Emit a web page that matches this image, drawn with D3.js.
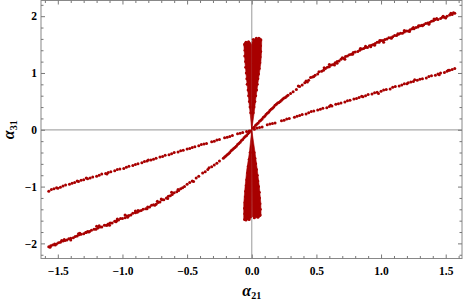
<!DOCTYPE html>
<html>
<head>
<meta charset="utf-8">
<script src="https://cdn.jsdelivr.net/npm/d3@7"></script>
<style>
  body { margin: 0; background: #fff; }
  svg { display: block; }
  .tick text { font-family: "Liberation Serif", serif; font-weight: bold; font-size: 11.5px; fill: #000; }
  .tick line { stroke: #777; }
  .label { font-family: "Liberation Serif", serif; font-weight: bold; }
</style>
</head>
<body>
<svg width="463" height="300"></svg>
<script>
// tick values
const xMajor = [-1.5, -1.0, -0.5, 0.0, 0.5, 1.0, 1.5]
const xMinor = [-1.6, -1.4, -1.3, -1.2, -1.1, -0.9, -0.8, -0.7, -0.6, -0.4, -0.3, -0.2, -0.1,
  0.1, 0.2, 0.3, 0.4, 0.6, 0.7, 0.8, 0.9, 1.1, 1.2, 1.3, 1.4, 1.6]
const yMajor = [-2, -1, 0, 1, 2]
const yMinor = [-2.2, -1.8, -1.6, -1.4, -1.2, -0.8, -0.6, -0.4, -0.2,
  0.2, 0.4, 0.6, 0.8, 1.2, 1.4, 1.6, 1.8, 2.2]

// shallow band, alpha31 ~ 0.68 alpha21
const bandA = [
  [0.02,0.01],[0.04,0.03],[0.06,0.04],[0.08,0.05],[0.12,0.09],[0.14,0.10],[0.16,0.11],[0.18,0.12],
  [0.23,0.16],[0.25,0.17],[0.27,0.19],[0.29,0.20],[0.33,0.22],[0.35,0.24],[0.37,0.25],[0.39,0.27],
  [0.42,0.28],[0.44,0.30],[0.46,0.32],[0.48,0.33],[0.51,0.35],[0.53,0.36],[0.55,0.38],[0.58,0.39],
  [0.60,0.41],[0.62,0.42],[0.65,0.45],[0.67,0.46],[0.69,0.47],[0.72,0.49],[0.74,0.51],[0.76,0.52],
  [0.79,0.54],[0.81,0.55],[0.83,0.57],[0.86,0.58],[0.88,0.60],[0.90,0.62],[0.93,0.63],[0.95,0.65],
  [0.97,0.66],[1.00,0.68],[1.02,0.70],[1.04,0.71],[1.07,0.72],[1.09,0.75],[1.11,0.76],[1.14,0.77],
  [1.16,0.79],[1.18,0.81],[1.21,0.83],[1.23,0.84],[1.25,0.85],[1.28,0.87],[1.30,0.89],[1.32,0.90],
  [1.35,0.91],[1.37,0.94],[1.39,0.95],[1.42,0.96],[1.44,0.98],[1.46,1.00],[1.49,1.01],[1.51,1.03],
  [1.53,1.05],[1.55,1.06],[1.57,1.08],
  [0.61,0.43],[0.98,0.64],[1.26,0.88],[1.45,0.97],[1.52,1.05],[1.20,0.81],[0.85,0.59],
  [-0.02,-0.02],[-0.04,-0.03],[-0.07,-0.05],[-0.09,-0.06],[-0.11,-0.07],[-0.15,-0.10],[-0.17,-0.12],
  [-0.19,-0.13],[-0.21,-0.14],[-0.25,-0.17],[-0.27,-0.18],[-0.29,-0.20],[-0.31,-0.21],[-0.35,-0.24],
  [-0.37,-0.25],[-0.39,-0.26],[-0.41,-0.28],[-0.44,-0.30],[-0.46,-0.31],[-0.48,-0.33],[-0.50,-0.34],
  [-0.53,-0.36],[-0.55,-0.37],[-0.57,-0.39],[-0.60,-0.40],[-0.62,-0.42],[-0.64,-0.44],[-0.67,-0.45],
  [-0.69,-0.47],[-0.71,-0.48],[-0.74,-0.50],[-0.76,-0.52],[-0.78,-0.53],[-0.81,-0.55],[-0.83,-0.56],
  [-0.85,-0.58],[-0.88,-0.60],[-0.90,-0.61],[-0.92,-0.63],[-0.95,-0.64],[-0.97,-0.66],[-0.99,-0.68],
  [-1.02,-0.69],[-1.04,-0.70],[-1.06,-0.72],[-1.09,-0.74],[-1.11,-0.75],[-1.13,-0.77],[-1.16,-0.78],
  [-1.18,-0.80],[-1.20,-0.82],[-1.23,-0.83],[-1.25,-0.85],[-1.27,-0.86],[-1.30,-0.88],[-1.32,-0.89],
  [-1.34,-0.91],[-1.37,-0.93],[-1.39,-0.94],[-1.41,-0.96],[-1.44,-0.97],[-1.46,-0.99],[-1.48,-1.01],
  [-1.51,-1.02],[-1.53,-1.04],[-1.55,-1.05],[-1.57,-1.08],
  [-1.35,-0.90],[-1.12,-0.78],[-0.80,-0.53],[-1.50,-1.03],[-1.28,-0.85]
]

// steep curved band
const bandB = [
  [0.01,0.03],[0.02,0.05],[0.03,0.08],[0.04,0.10],[0.05,0.12],[0.06,0.15],[0.07,0.17],[0.08,0.19],
  [0.09,0.22],[0.10,0.24],[0.11,0.27],[0.12,0.29],[0.13,0.31],[0.14,0.34],[0.15,0.36],[0.16,0.38],
  [0.17,0.40],[0.18,0.43],[0.19,0.45],[0.20,0.47],[0.21,0.48],[0.22,0.50],[0.23,0.52],[0.24,0.54],
  [0.25,0.56],[0.26,0.57],[0.27,0.59],[0.28,0.61],
  [0.30,0.64],[0.32,0.67],[0.345,0.71],[0.37,0.76],[0.39,0.79],[0.41,0.83],[0.42,0.86],[0.44,0.87],
  [0.455,0.92],[0.47,0.93],
  [0.49,0.96],[0.51,0.98],[0.52,1.02],[0.54,1.03],[0.555,1.05],[0.57,1.08],[0.585,1.10],[0.60,1.11],
  [0.615,1.14],[0.63,1.15],[0.645,1.18],[0.66,1.20],[0.675,1.21],[0.69,1.24],[0.71,1.26],[0.725,1.29],
  [0.74,1.30],[0.755,1.32],[0.77,1.33],[0.785,1.36],[0.80,1.37],[0.82,1.38],[0.835,1.40],[0.85,1.42],
  [0.865,1.43],[0.88,1.45],[0.895,1.45],[0.91,1.48],[0.925,1.49],[0.94,1.50],[0.955,1.52],[0.97,1.54],
  [0.985,1.54],[1.00,1.57],[1.015,1.57],[1.03,1.59],[1.045,1.60],[1.06,1.62],[1.075,1.62],[1.09,1.64],
  [1.105,1.66],[1.12,1.66],[1.135,1.68],[1.15,1.70],[1.165,1.70],[1.18,1.72],[1.195,1.74],[1.21,1.74],
  [1.225,1.76],[1.24,1.78],[1.255,1.78],[1.27,1.80],[1.285,1.81],[1.30,1.83],[1.315,1.84],[1.33,1.85],
  [1.345,1.87],[1.36,1.88],[1.375,1.89],[1.39,1.91],[1.405,1.92],[1.42,1.94],[1.44,1.94],[1.46,1.96],
  [1.475,1.98],[1.49,1.98],[1.51,2.00],[1.53,2.02],[1.55,2.03],[1.57,2.05],
  [0.60,1.15],[0.72,1.24],[0.88,1.47],[1.02,1.54],[1.18,1.75],[1.32,1.83],[1.48,2.00],[0.66,1.17],
  [0.95,1.49],[1.25,1.80],[1.43,1.96],[1.54,2.05],
  [0.56,1.09],[0.64,1.14],[0.70,1.27],[0.78,1.33],[0.84,1.43],[0.92,1.46],[0.99,1.57],[1.08,1.61],
  [1.13,1.69],[1.22,1.73],[1.29,1.83],[1.37,1.86],[1.41,1.95],[1.50,1.97],[1.56,2.06],[0.43,0.84],
  [0.36,0.77],[0.48,0.94],
  [-0.01,-0.02],[-0.02,-0.05],[-0.03,-0.07],[-0.04,-0.10],[-0.05,-0.12],[-0.06,-0.14],[-0.07,-0.17],
  [-0.08,-0.19],[-0.09,-0.22],[-0.10,-0.24],[-0.11,-0.26],[-0.12,-0.29],[-0.13,-0.31],[-0.14,-0.33],
  [-0.15,-0.35],[-0.16,-0.37],[-0.17,-0.40],[-0.18,-0.42],[-0.19,-0.44],[-0.20,-0.46],[-0.21,-0.48],
  [-0.22,-0.50],
  [-0.25,-0.55],[-0.27,-0.59],[-0.29,-0.62],[-0.31,-0.65],[-0.34,-0.70],[-0.36,-0.74],[-0.38,-0.76],
  [-0.41,-0.82],[-0.43,-0.85],[-0.46,-0.90],[-0.48,-0.93],[-0.50,-0.96],
  [-0.52,-1.00],[-0.535,-1.02],[-0.55,-1.04],[-0.565,-1.07],[-0.58,-1.09],[-0.60,-1.11],[-0.615,-1.14],
  [-0.63,-1.16],[-0.645,-1.17],[-0.66,-1.20],[-0.68,-1.23],[-0.695,-1.23],[-0.71,-1.27],[-0.725,-1.28],
  [-0.74,-1.31],[-0.76,-1.32],[-0.775,-1.33],[-0.79,-1.36],[-0.805,-1.36],[-0.82,-1.39],[-0.84,-1.40],
  [-0.855,-1.42],[-0.87,-1.43],[-0.885,-1.45],[-0.90,-1.46],[-0.92,-1.47],[-0.935,-1.50],[-0.95,-1.51],
  [-0.965,-1.52],[-0.98,-1.55],[-1.00,-1.56],[-1.015,-1.56],[-1.03,-1.59],[-1.045,-1.60],[-1.06,-1.61],
  [-1.08,-1.64],[-1.095,-1.64],[-1.11,-1.66],[-1.125,-1.68],[-1.14,-1.68],[-1.16,-1.71],[-1.175,-1.71],
  [-1.19,-1.73],[-1.205,-1.75],[-1.22,-1.75],[-1.24,-1.77],[-1.255,-1.79],[-1.27,-1.79],[-1.285,-1.81],
  [-1.30,-1.83],[-1.32,-1.84],[-1.335,-1.85],[-1.35,-1.87],[-1.365,-1.88],[-1.38,-1.90],[-1.40,-1.91],
  [-1.415,-1.92],[-1.43,-1.94],[-1.445,-1.95],[-1.46,-1.96],[-1.48,-1.98],[-1.495,-1.99],[-1.51,-2.01],
  [-1.525,-2.01],[-1.54,-2.03],[-1.555,-2.04],[-1.57,-2.06],
  [-0.62,-1.10],[-0.75,-1.33],[-0.90,-1.43],[-1.05,-1.62],[-1.20,-1.70],[-1.34,-1.83],[-1.47,-1.95],
  [-0.70,-1.22],[-1.10,-1.68],[-1.56,-2.07],[-0.98,-1.50],[-1.28,-1.81],
  [-0.57,-1.05],[-0.65,-1.21],[-0.73,-1.26],[-0.81,-1.39],[-0.88,-1.42],[-0.96,-1.54],[-1.04,-1.57],
  [-1.12,-1.68],[-1.18,-1.69],[-1.26,-1.80],[-1.33,-1.82],[-1.40,-1.94],[-1.45,-1.93],[-1.52,-2.03],
  [-0.33,-0.67],[-0.45,-0.91]
]

// dense hourglass around alpha21 = 0, outlines of its four lobes
const tieUpLeft = [[0,0],[-0.012,0.28],[-0.026,0.58],[-0.04,0.88],[-0.052,1.17],[-0.06,1.45],[-0.062,1.52],
  [-0.05,1.545],[-0.03,1.55],[-0.01,1.54],[-0.002,1.50],[-0.001,0.5]]
const tieUpRight = [[0,0],[0.002,0.5],[0.002,1.55],[0.015,1.59],[0.04,1.61],[0.065,1.615],[0.077,1.6],
  [0.075,1.35],[0.07,1.17],[0.051,0.87],[0.033,0.58],[0.018,0.29]]
const tieDownLeft = [[0,0],[-0.001,-0.5],[-0.002,-1.55],[-0.02,-1.58],[-0.045,-1.595],[-0.062,-1.59],
  [-0.062,-1.3],[-0.052,-1.01],[-0.039,-0.71],[-0.019,-0.41]]
const tieDownRight = [[0,0],[0.026,-0.41],[0.043,-0.71],[0.059,-1.01],[0.07,-1.29],[0.072,-1.52],
  [0.055,-1.54],[0.03,-1.55],[0.004,-1.53],[0.002,-0.5]]

// scattered points along the hourglass rim
const tieRim = [
  [-0.055,1.50],[-0.052,1.40],[-0.054,1.30],[-0.048,1.20],[-0.047,1.10],[-0.042,1.00],[-0.038,0.90],
  [-0.035,0.80],[-0.028,0.70],[-0.024,0.60],[-0.018,0.50],[-0.013,0.40],[-0.008,0.30],
  [0.070,1.58],[0.067,1.48],[0.069,1.38],[0.064,1.28],[0.062,1.18],[0.058,1.08],[0.052,0.98],
  [0.047,0.90],[0.042,0.80],[0.037,0.70],[0.030,0.60],[0.024,0.50],[0.017,0.40],[0.011,0.30],
  [-0.055,-1.58],[-0.054,-1.48],[-0.056,-1.38],[-0.052,-1.28],[-0.049,-1.18],[-0.047,-1.08],
  [-0.042,-0.98],[-0.038,-0.88],[-0.032,-0.76],[-0.026,-0.64],[-0.019,-0.52],[-0.012,-0.40],
  [0.064,-1.50],[0.066,-1.40],[0.063,-1.30],[0.060,-1.20],[0.058,-1.10],[0.052,-1.00],[0.047,-0.90],
  [0.042,-0.80],[0.036,-0.70],[0.030,-0.60],[0.024,-0.50],[0.018,-0.40],
  [-0.045,1.54],[-0.025,1.55],[0.012,1.59],[0.035,1.61],[0.055,1.61],
  [-0.045,-1.59],[-0.02,-1.58],[0.02,-1.55],[0.048,-1.54]
]

const svg = d3.select('svg')
const color = '#a80000'

const x = d3.scaleLinear().domain([-1.63, 1.626]).range([41, 462])
const y = d3.scaleLinear().domain([-2.266, 2.276]).range([258.5, 0.5])

// origin axes
svg.append('line')
  .attr('x1', x(0)).attr('x2', x(0)).attr('y1', y.range()[1]).attr('y2', y.range()[0])
  .attr('stroke', '#aaa').attr('stroke-width', 1.2)
svg.append('line')
  .attr('x1', x.range()[0]).attr('x2', x.range()[1]).attr('y1', y(0)).attr('y2', y(0))
  .attr('stroke', '#aaa').attr('stroke-width', 1.2)

// hourglass lobes
const area = d3.line().x(d => x(d[0])).y(d => y(d[1]))
svg.selectAll('.lobe')
  .data([tieUpLeft, tieUpRight, tieDownLeft, tieDownRight])
  .enter()
  .append('path')
  .attr('class', 'lobe')
  .attr('d', d => area(d) + 'Z')
  .attr('fill', color)
  .attr('stroke', color)
  .attr('stroke-width', 0.6)

// points
svg.selectAll('.pt')
  .data(bandA.concat(bandB, tieRim))
  .enter()
  .append('circle')
  .attr('class', 'pt')
  .attr('cx', d => x(d[0]))
  .attr('cy', d => y(d[1]))
  .attr('r', 1.5)
  .attr('fill', color)

// frame
svg.append('rect')
  .attr('x', x.range()[0]).attr('y', y.range()[1])
  .attr('width', x.range()[1] - x.range()[0])
  .attr('height', y.range()[0] - y.range()[1])
  .attr('fill', 'none').attr('stroke', '#888').attr('stroke-width', 1)

const drawAxis = (axis, tx, ty) => {
  const g = svg.append('g').attr('transform', `translate(${tx}, ${ty})`).call(axis)
  g.select('.domain').remove()
  return g
}

// bottom / top ticks
drawAxis(d3.axisBottom(x).tickValues(xMajor).tickSize(-4).tickPadding(8).tickFormat(d3.format('.1f')), 0, y.range()[0])
drawAxis(d3.axisBottom(x).tickValues(xMinor).tickSize(-2.5).tickFormat(''), 0, y.range()[0])
drawAxis(d3.axisTop(x).tickValues(xMajor).tickSize(-4).tickFormat(''), 0, y.range()[1])
drawAxis(d3.axisTop(x).tickValues(xMinor).tickSize(-2.5).tickFormat(''), 0, y.range()[1])

// left / right ticks
drawAxis(d3.axisLeft(y).tickValues(yMajor).tickSize(-4).tickPadding(4).tickFormat(d3.format('d')), x.range()[0], 0)
drawAxis(d3.axisLeft(y).tickValues(yMinor).tickSize(-2.5).tickFormat(''), x.range()[0], 0)
drawAxis(d3.axisRight(y).tickValues(yMajor).tickSize(-4).tickFormat(''), x.range()[1], 0)
drawAxis(d3.axisRight(y).tickValues(yMinor).tickSize(-2.5).tickFormat(''), x.range()[1], 0)

// axis titles
const xt = svg.append('text')
  .attr('class', 'label')
  .attr('x', x(0))
  .attr('y', 296)
  .attr('text-anchor', 'middle')
xt.append('tspan').attr('font-style', 'italic').attr('font-size', '16px').text('α')
xt.append('tspan').attr('font-size', '10px').attr('dy', '3').text('21')

const yt = svg.append('text')
  .attr('class', 'label')
  .attr('transform', `translate(14, ${y(0)}) rotate(-90)`)
  .attr('text-anchor', 'middle')
yt.append('tspan').attr('font-style', 'italic').attr('font-size', '16px').text('α')
yt.append('tspan').attr('font-size', '10px').attr('dy', '3').text('31')
</script>
</body>
</html>
